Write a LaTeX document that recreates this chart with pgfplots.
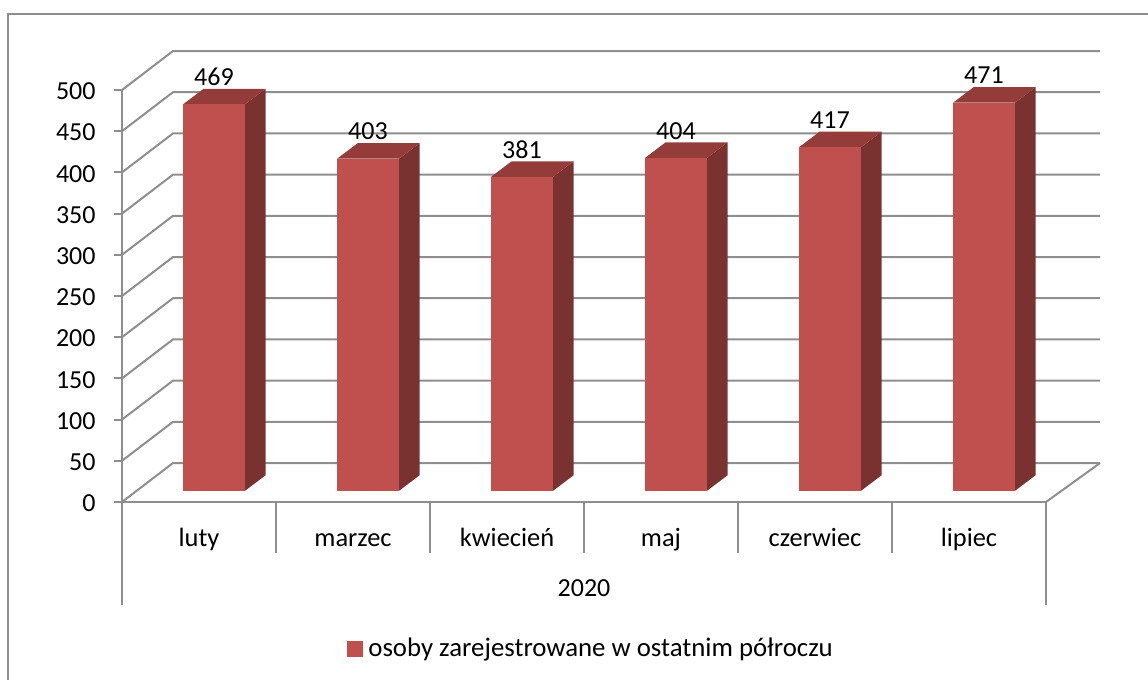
\documentclass[border=0pt]{standalone}
\usepackage{pgfplots}
\usepackage{pgfplotstable}
\usepackage{fontspec}
\setmainfont{Carlito}
\pgfplotsset{compat=1.18}
\definecolor{gridc}{HTML}{8E8E8E}
\definecolor{frontc}{HTML}{C0504D}
\definecolor{topc}{HTML}{943C3A}
\definecolor{sidec}{HTML}{7A3230}
\pgfplotstableread{
x v
0 469
1 403
2 381
3 404
4 417
5 471
}\datatable
% depth of the 3D floor: dx in category units, dy in value units
\newcommand\gridl[1]{%
  \pgfmathsetmacro\gy{#1+47.3}%
  \addplot[gridc,line width=1pt] coordinates {(-0.5,#1) (-0.169,\gy) (5.851,\gy)};%
}
\newcommand\barp[2]{%
  \pgfmathsetmacro\xa{#1+0.0985-0.2013}%
  \pgfmathsetmacro\xb{#1+0.0985+0.2013}%
  \pgfmathsetmacro\xc{\xa+0.133}%
  \pgfmathsetmacro\xd{\xb+0.133}%
  \pgfmathsetmacro\ya{13.7}%
  \pgfmathsetmacro\yb{#2+13.7}%
  \pgfmathsetmacro\yc{13.7+18.8}%
  \pgfmathsetmacro\yd{#2+13.7+18.8}%
  \addplot[fill=sidec,draw=none] coordinates {(\xb,\ya) (\xd,\yc) (\xd,\yd) (\xb,\yb)} --cycle;%
  \addplot[fill=topc,draw=none] coordinates {(\xa,\yb) (\xb,\yb) (\xd,\yd) (\xc,\yd)} --cycle;%
  \addplot[fill=frontc,draw=none] coordinates {(\xa,\ya) (\xb,\ya) (\xb,\yb) (\xa,\yb)} --cycle;%
}
\begin{document}
\begin{tikzpicture}
\useasboundingbox (-61pt,-89pt) rectangle (513pt,251pt);
\draw[gridc,line width=1pt] (-57pt,-89pt) -- (-57pt,244pt) -- (513pt,244pt);
\begin{axis}[
  at={(0pt,0pt)},anchor=south west,
  scale only axis,width=462pt,height=206pt,
  xmin=-0.5,xmax=5.5,ymin=0,ymax=500,
  clip=false,
  axis x line*=bottom,axis y line*=left,
  axis line style={gridc,line width=1pt,-},
  ytick={0,50,...,500},
  xtick={0,1,2,3,4,5},
  xticklabels={luty,marzec,kwiecień,maj,czerwiec,lipiec},
  tick align=outside,
  y tick style={gridc,line width=1pt},
  x tick style={draw=none},
  major tick length=4pt,
  minor tick num=0,
  tick label style={font=\fontsize{13}{15}\selectfont,text=black},
  /pgf/number format/assume math mode=true,
  yticklabel style={inner sep=0pt,xshift=-9pt,yshift=-0.7pt},
  xticklabel style={anchor=base,inner sep=0pt,yshift=-18.5pt,font=\fontsize{13.2}{15}\selectfont},
  legend style={at={(0.2435,-0.356)},anchor=west,draw=none,fill=none,inner sep=0pt,
    font=\fontsize{13.4}{15}\selectfont},
  legend cell align=left,
]
\addlegendimage{legend image code/.code={\fill[frontc] (0pt,-3.7pt) rectangle (7.4pt,3.7pt);}}
\addlegendentry{\hspace{0.7pt}osoby zarejestrowane w ostatnim półroczu}
\gridl{0}\gridl{50}\gridl{100}\gridl{150}\gridl{200}\gridl{250}
\gridl{300}\gridl{350}\gridl{400}\gridl{450}\gridl{500}
\addplot[gridc,line width=1pt] coordinates {(5.5,0) (5.851,47.3)};
% category dividers
\addplot[gridc,line width=1pt] coordinates {(-0.5,0) (-0.5,-125)};
\addplot[gridc,line width=1pt] coordinates {(0.5,0) (0.5,-62)};
\addplot[gridc,line width=1pt] coordinates {(1.5,0) (1.5,-62)};
\addplot[gridc,line width=1pt] coordinates {(2.5,0) (2.5,-62)};
\addplot[gridc,line width=1pt] coordinates {(3.5,0) (3.5,-62)};
\addplot[gridc,line width=1pt] coordinates {(4.5,0) (4.5,-62)};
\addplot[gridc,line width=1pt] coordinates {(5.5,0) (5.5,-125)};
\barp{0}{469}\barp{1}{403}\barp{2}{381}\barp{3}{404}\barp{4}{417}\barp{5}{471}
\addplot[draw=none,mark=none,point meta=explicit,
  nodes near coords,nodes near coords align={center},
  every node near coord/.append style={font=\fontsize{13}{15}\selectfont,text=black,inner sep=0pt}]
  table[x expr=\thisrow{x}+0.0974,y expr=\thisrow{v}+46.5,meta=v]{\datatable};
\node[font=\fontsize{13}{15}\selectfont,inner sep=0pt] at (axis cs:2.5,-104) {2020};
\end{axis}
\end{tikzpicture}
\end{document}
